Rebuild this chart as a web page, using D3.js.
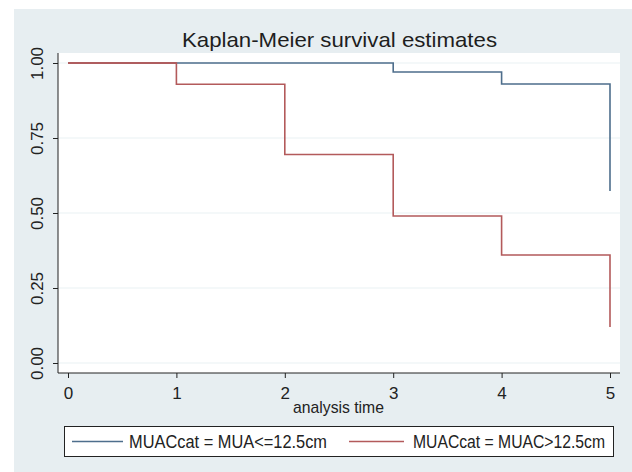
<!DOCTYPE html>
<html><head><meta charset="utf-8">
<script src="https://cdn.jsdelivr.net/npm/d3@7"></script>
<style>body{margin:0;background:#fff}svg{display:block}text{font-family:"Liberation Sans",Arial,sans-serif}</style>
</head><body><svg id="c" width="632" height="472"></svg>
<script>
const times = [0, 1, 2, 3, 4, 5];
const seriesNames = ["MUACcat = MUA<=12.5cm", "MUACcat = MUAC>12.5cm"];
// step values at each time (value holds from this time to next); last entry is the drop at t=5
const blueSteps = [1.00, 1.00, 1.00, 0.97, 0.93, 0.573];
const redSteps = [1.00, 0.929, 0.695, 0.49, 0.36, 0.12];
const yTicks = [0, 0.25, 0.5, 0.75, 1.0];
const xTicks = [0, 1, 2, 3, 4, 5];
const colors = ["#4e6e8c", "#b35a5b"];

const svg = d3.select("#c");
svg.append("rect").attr("x",14).attr("y",9).attr("width",618).attr("height",463).attr("fill","#e7eef1");
const L=58, R=620, T=53, B=373;
svg.append("rect").attr("x",L).attr("y",T).attr("width",R-L).attr("height",B-T).attr("fill","#fff");

const x = d3.scaleLinear().domain([0,5]).range([68,610]);
const y = d3.scaleLinear().domain([0,1]).range([363,63]);

// gridlines
svg.append("g").selectAll("line").data(yTicks).join("line")
  .attr("x1",L).attr("x2",R).attr("y1",d=>y(d)).attr("y2",d=>y(d))
  .attr("stroke","#eaf2f3").attr("stroke-width",1.2);

// axes
const gy = svg.append("g").attr("transform",`translate(${L},0)`)
  .call(d3.axisLeft(y).tickValues(yTicks).tickSize(5).tickFormat(d3.format(".2f")));
gy.select(".domain").attr("d",`M0,${T}V${B}`).attr("stroke","#222");
gy.selectAll(".tick line").attr("stroke","#222");
gy.selectAll(".tick text").attr("transform","rotate(-90)").attr("x",0).attr("y",-15)
  .attr("dy","0").attr("text-anchor","middle").attr("font-size",17).attr("fill","#222")
  .style("font-family","Liberation Sans, Arial, sans-serif");

const gx = svg.append("g").attr("transform",`translate(0,${B})`)
  .call(d3.axisBottom(x).tickValues(xTicks).tickSize(5).tickFormat(d3.format("d")));
gx.select(".domain").attr("d",`M${L},0H${R}`).attr("stroke","#222");
gx.selectAll(".tick line").attr("stroke","#222");
gx.selectAll(".tick text").attr("y",26).attr("dy","0").attr("font-size",17).attr("fill","#222")
  .style("font-family","Liberation Sans, Arial, sans-serif");

// step lines
function stepPath(vals){
  const pts=[];
  for(let i=0;i<times.length-1;i++){
    pts.push([x(times[i]),y(vals[i])]);
    pts.push([x(times[i+1]),y(vals[i])]);
  }
  pts.push([x(times[times.length-1]),y(vals[vals.length-1])]);
  return d3.line()(pts);
}
[blueSteps, redSteps].forEach((s,i)=>{
  svg.append("path").attr("d",stepPath(s)).attr("fill","none")
    .attr("stroke",colors[i]).attr("stroke-width",1.6);
});
svg.append("path").attr("d",d3.line()([[x(0),y(1)],[x(1),y(1)]])).attr("stroke",colors[1]).attr("stroke-width",1.6);

// title
svg.append("text").attr("x",339.5).attr("y",47).attr("text-anchor","middle")
  .attr("font-size",21).attr("fill","#1e1e1e").attr("textLength",315).attr("lengthAdjust","spacingAndGlyphs")
  .text("Kaplan-Meier survival estimates");
svg.append("text").attr("x",338.5).attr("y",413).attr("text-anchor","middle")
  .attr("font-size",17).attr("fill","#222").attr("textLength",91).attr("lengthAdjust","spacingAndGlyphs")
  .text("analysis time");

// legend
svg.append("rect").attr("x",64.5).attr("y",426.5).attr("width",549).attr("height",30)
  .attr("fill","#fff").attr("stroke","#222").attr("stroke-width",1);
const leg = [{x1:72,x2:123,tx:129,tw:198},{x1:349,x2:404,tx:413,tw:192}];
leg.forEach((l,i)=>{
  svg.append("line").attr("x1",l.x1).attr("x2",l.x2).attr("y1",441.5).attr("y2",441.5)
    .attr("stroke",colors[i]).attr("stroke-width",1.6);
  svg.append("text").attr("x",l.tx).attr("y",448).attr("font-size",17.5).attr("fill","#222")
    .attr("textLength",l.tw).attr("lengthAdjust","spacingAndGlyphs").text(seriesNames[i]);
});
</script></body></html>
